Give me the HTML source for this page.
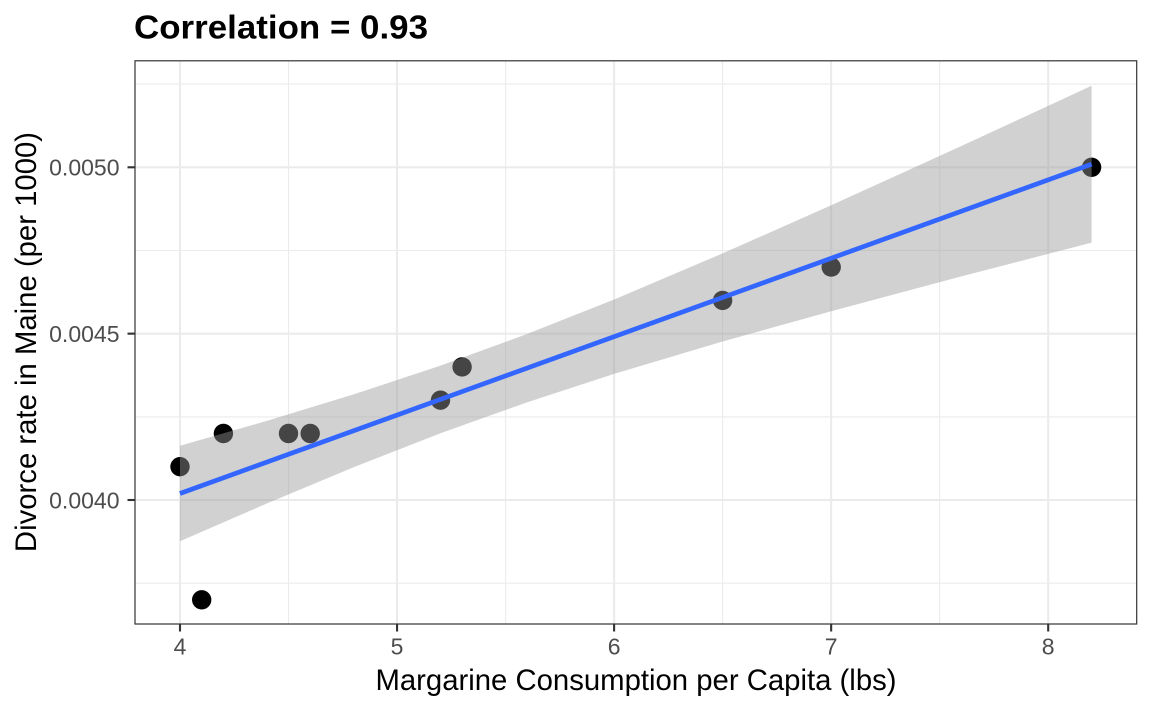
<!DOCTYPE html>
<html>
<head>
<meta charset="utf-8">
<style>
html,body{margin:0;padding:0;background:#fff;}
svg{display:block;}
text{font-family:"Liberation Sans",Arial,sans-serif;}
</style>
</head>
<body>
<svg width="1152" height="711" viewBox="0 0 1152 711" xmlns="http://www.w3.org/2000/svg">
  <rect x="0" y="0" width="1152" height="711" fill="#ffffff"/>
  <rect x="135" y="60.8" width="1001.7" height="563.2" fill="#ffffff"/>
  <!-- minor grid -->
  <g stroke="#ebebeb" stroke-width="1.1">
    <line x1="135" y1="84.1" x2="1136.7" y2="84.1"/>
    <line x1="135" y1="250.5" x2="1136.7" y2="250.5"/>
    <line x1="135" y1="416.9" x2="1136.7" y2="416.9"/>
    <line x1="135" y1="583.2" x2="1136.7" y2="583.2"/>
    <line x1="288.5" y1="60.8" x2="288.5" y2="624"/>
    <line x1="505.6" y1="60.8" x2="505.6" y2="624"/>
    <line x1="722.6" y1="60.8" x2="722.6" y2="624"/>
    <line x1="939.7" y1="60.8" x2="939.7" y2="624"/>
  </g>
  <!-- major grid -->
  <g stroke="#ebebeb" stroke-width="2.1">
    <line x1="135" y1="167.3" x2="1136.7" y2="167.3"/>
    <line x1="135" y1="333.65" x2="1136.7" y2="333.65"/>
    <line x1="135" y1="500" x2="1136.7" y2="500"/>
    <line x1="180" y1="60.8" x2="180" y2="624"/>
    <line x1="397.05" y1="60.8" x2="397.05" y2="624"/>
    <line x1="614.1" y1="60.8" x2="614.1" y2="624"/>
    <line x1="831.15" y1="60.8" x2="831.15" y2="624"/>
    <line x1="1048.2" y1="60.8" x2="1048.2" y2="624"/>
  </g>
  <!-- points -->
  <g fill="#000000">
    <circle cx="180" cy="466.7" r="9.7"/>
    <circle cx="201.7" cy="599.8" r="9.7"/>
    <circle cx="223.4" cy="433.5" r="9.7"/>
    <circle cx="288.5" cy="433.5" r="9.7"/>
    <circle cx="310.2" cy="433.5" r="9.7"/>
    <circle cx="440.5" cy="400.2" r="9.7"/>
    <circle cx="462.1" cy="366.9" r="9.7"/>
    <circle cx="722.6" cy="300.4" r="9.7"/>
    <circle cx="831.2" cy="267.1" r="9.7"/>
    <circle cx="1091.6" cy="167.3" r="9.7"/>
  </g>
  <!-- confidence ribbon -->
  <polygon fill="#999999" fill-opacity="0.45" points="
    180,445.8 266.8,420.9 353.6,394.4 440.5,365.6 527.3,333.9 614.1,299.5 722.6,253.4 831.2,205.3 961.4,146.0 1091.6,85.8
    1091.6,242.6 961.4,276.4 831.2,311.2 722.6,341.5 614.1,373.9 527.3,402.2 440.5,433.3 353.6,467.2 266.8,503.5 180,541.3"/>
  <!-- regression line -->
  <line x1="180" y1="493.5" x2="1091.6" y2="164.2" stroke="#3366FF" stroke-width="4.7"/>
  <!-- panel border -->
  <rect x="135" y="60.8" width="1001.7" height="563.2" fill="none" stroke="#333333" stroke-width="1.2"/>
  <!-- ticks -->
  <g stroke="#333333" stroke-width="2.1">
    <line x1="127.5" y1="167.3" x2="135" y2="167.3"/>
    <line x1="127.5" y1="333.65" x2="135" y2="333.65"/>
    <line x1="127.5" y1="500" x2="135" y2="500"/>
    <line x1="180" y1="624" x2="180" y2="631.5"/>
    <line x1="397.05" y1="624" x2="397.05" y2="631.5"/>
    <line x1="614.1" y1="624" x2="614.1" y2="631.5"/>
    <line x1="831.15" y1="624" x2="831.15" y2="631.5"/>
    <line x1="1048.2" y1="624" x2="1048.2" y2="631.5"/>
  </g>
  <!-- y tick labels -->
  <g fill="#4d4d4d" font-size="23" text-anchor="end">
    <text x="119.5" y="175.6">0.0050</text>
    <text x="119.5" y="341.9">0.0045</text>
    <text x="119.5" y="508.3">0.0040</text>
  </g>
  <!-- x tick labels -->
  <g fill="#4d4d4d" font-size="23" text-anchor="middle">
    <text x="180" y="654.5">4</text>
    <text x="397.05" y="654.5">5</text>
    <text x="614.1" y="654.5">6</text>
    <text x="831.15" y="654.5">7</text>
    <text x="1048.2" y="654.5">8</text>
  </g>
  <!-- axis titles -->
  <text x="636" y="690" font-size="29.3" fill="#000000" text-anchor="middle">Margarine Consumption per Capita (lbs)</text>
  <text transform="translate(36,342) rotate(-90)" font-size="29.3" fill="#000000" text-anchor="middle">Divorce rate in Maine (per 1000)</text>
  <!-- title -->
  <text x="134" y="38.5" font-size="33" font-weight="bold" fill="#000000" textLength="294" lengthAdjust="spacingAndGlyphs">Correlation = 0.93</text>
</svg>
</body>
</html>
